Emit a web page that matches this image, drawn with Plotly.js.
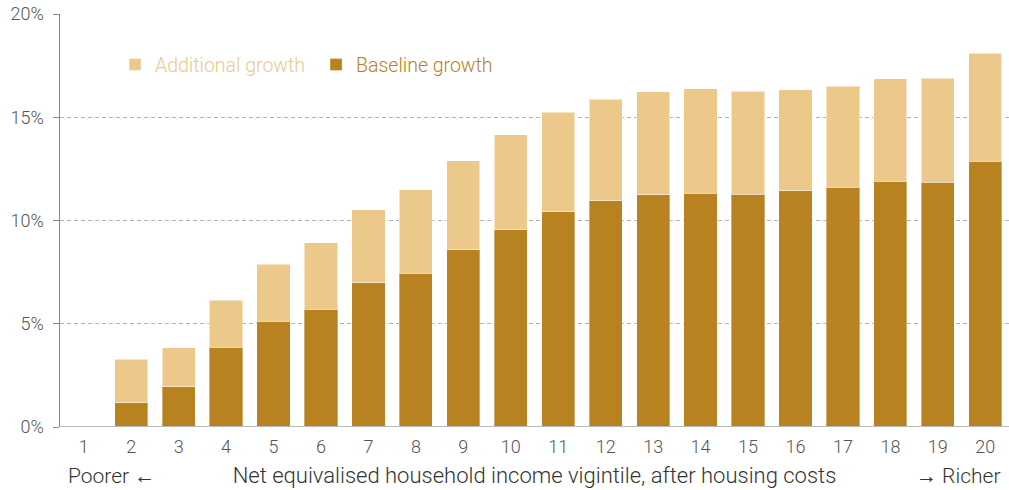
<!DOCTYPE html>
<html>
<head>
<meta charset="utf-8">
<script src="https://cdn.plot.ly/plotly-3.0.1.min.js"></script>
<style>html,body{margin:0;padding:0;background:#fff;}#chart{width:1009px;height:490px;}</style>
</head>
<body>
<div id="chart"></div>
<script>
const categories = ['1','2','3','4','5','6','7','8','9','10','11','12','13','14','15','16','17','18','19','20'];
const baselineGrowth = [0, 1.18, 1.95, 3.86, 5.13, 5.71, 6.99, 7.45, 8.58, 9.55, 10.43, 10.95, 11.24, 11.33, 11.27, 11.45, 11.62, 11.90, 11.85, 12.88];
const totalGrowth = [0, 3.29, 3.83, 6.15, 7.87, 8.93, 10.53, 11.48, 12.90, 14.15, 15.25, 15.86, 16.23, 16.39, 16.27, 16.34, 16.51, 16.86, 16.90, 18.10];
const additionalGrowth = totalGrowth.map((t, i) => +(t - baselineGrowth[i]).toFixed(2));
const yTicks = [0, 5, 10, 15, 20];
const yTickLabels = ['0%', '5%', '10%', '15%', '20%'];

const dark = '#B88220';
const light = '#ECC98B';
const font = 'Roboto, "Open Sans", sans-serif';

const traces = [
  {
    type: 'bar', x: categories, y: baselineGrowth, name: '<span style="color:' + dark + '">Baseline growth</span>',
    marker: {color: dark, line: {color: 'rgba(255,255,255,0.35)', width: 1}},
    hoverinfo: 'skip'
  },
  {
    type: 'bar', x: categories, y: additionalGrowth, name: '<span style="color:' + light + '">Additional growth</span>',
    marker: {color: light, line: {color: 'rgba(255,255,255,0.5)', width: 1}},
    hoverinfo: 'skip'
  }
];

const layout = {
  width: 1009, height: 490,
  margin: {l: 60, r: 0, t: 14, b: 63},
  paper_bgcolor: '#fff', plot_bgcolor: '#fff',
  barmode: 'stack', bargap: 0.3,
  font: {family: font, color: '#555', size: 18, weight: 300},
  showlegend: true,
  legend: {
    orientation: 'h', traceorder: 'reversed', x: 0.058, y: 0.877, xanchor: 'left', yanchor: 'middle',
    font: {family: font, size: 19.5, weight: 300}, bgcolor: 'rgba(0,0,0,0)', entrywidth: 156, itemwidth: 20
  },
  xaxis: {
    type: 'category', tickvals: categories, ticktext: categories,
    showgrid: false, zeroline: false, showline: false, ticks: '', ticklabelstandoff: 7,
    tickfont: {family: font, size: 18, color: '#555', weight: 300},
    title: {text: 'Net equivalised household income vigintile, after housing costs', standoff: 11,
            font: {family: font, size: 22, color: '#333', weight: 300}},
    range: [-0.5, 19.5], fixedrange: true
  },
  yaxis: {
    range: [0, 20], tickvals: yTicks, ticktext: yTickLabels,
    showgrid: true, gridcolor: '#b3b3b3', griddash: '4px,3px', gridwidth: 1,
    zeroline: false, showline: true, linecolor: '#888', linewidth: 1.5,
    ticks: 'outside', ticklen: 6, tickcolor: '#888', tickwidth: 1, ticklabelstandoff: 5,
    tickfont: {family: font, size: 18, color: '#555', weight: 300}, fixedrange: true
  },
  shapes: [
    {type: 'line', xref: 'paper', yref: 'y', x0: 0, x1: 1, y0: 0, y1: 0, line: {color: '#bbb', width: 2}}
  ],
  annotations: [
    {xref: 'paper', yref: 'paper', x: 0.006, y: -0.119, xanchor: 'left', yanchor: 'middle', showarrow: false,
     text: 'Poorer ←', font: {family: font, size: 21, color: '#333', weight: 300}},
    {xref: 'paper', yref: 'paper', x: 0.993, y: -0.119, xanchor: 'right', yanchor: 'middle', showarrow: false,
     text: '→ Richer', font: {family: font, size: 21, color: '#333', weight: 300}}
  ]
};

Plotly.newPlot('chart', traces, layout, {displayModeBar: false, staticPlot: true});
</script>
</body>
</html>
